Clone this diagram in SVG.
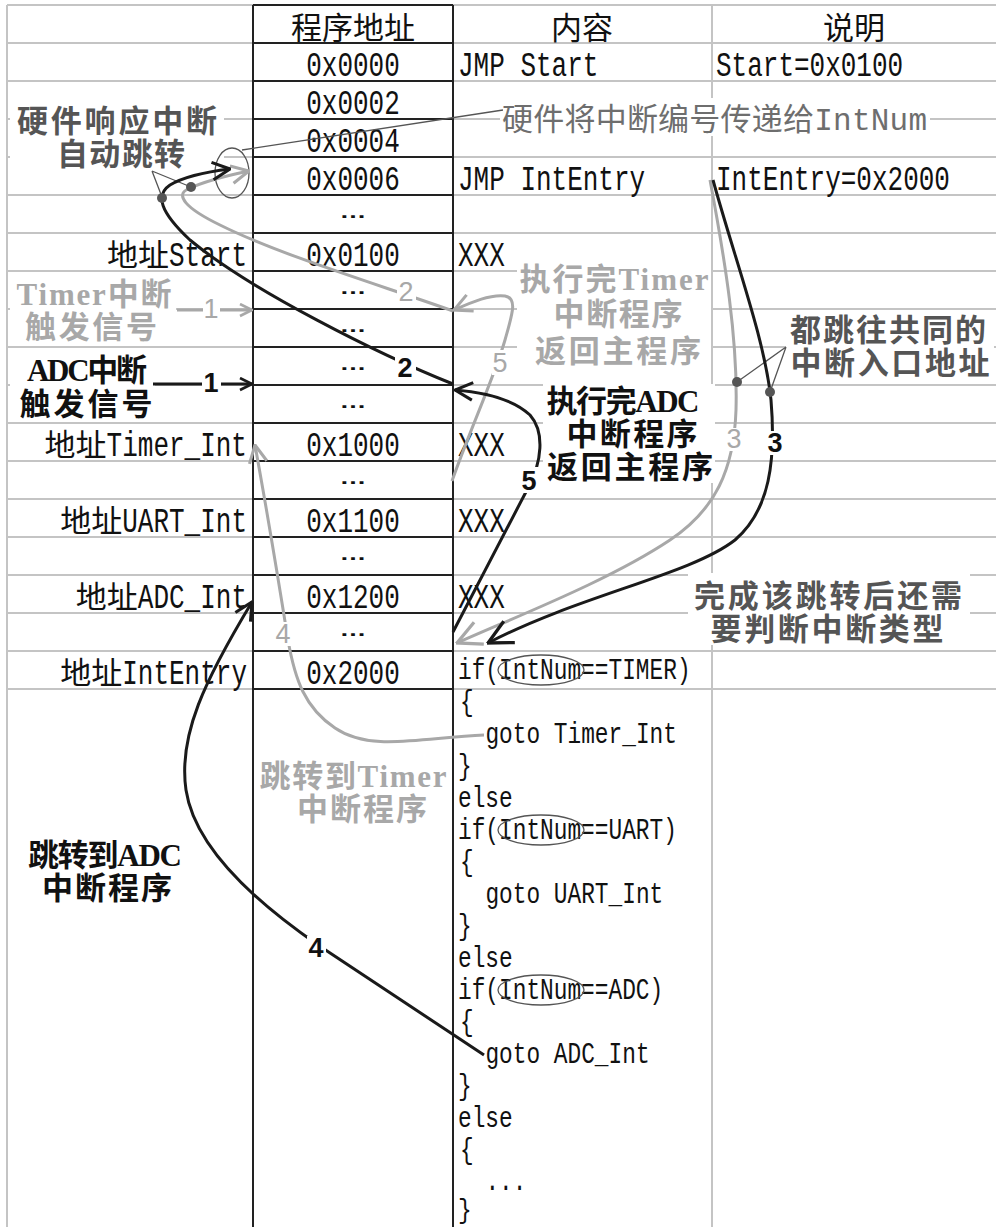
<svg xmlns="http://www.w3.org/2000/svg" width="996" height="1227" viewBox="0 0 996 1227">
<style>
.gl{fill:none;stroke:#c4c4c4;stroke-width:2}
.bl{fill:none;stroke:#222;stroke-width:2}
.m{font-family:"Liberation Mono",monospace;font-size:26px;fill:#111}
.c{font-family:"Liberation Mono",monospace;font-size:22.8px;fill:#111}
.h{font-family:"Noto Sans CJK SC",sans-serif;font-size:31px;fill:#111}
.el{font-family:"Liberation Sans",sans-serif;font-size:18px;font-weight:bold;fill:#111;text-anchor:middle}
.lb{font-family:"Liberation Serif","Noto Sans CJK SC",serif;font-size:31px;font-weight:bold;text-anchor:middle}
.rg{font-family:"Liberation Mono","Noto Sans CJK SC",monospace;font-size:31px;fill:#6e6e6e}
.dk{fill:#555}.lg{fill:#a8a8a8}.bk{fill:#111}
.cb{fill:none;stroke:#1a1a1a;stroke-width:3}
.cg{fill:none;stroke:#a8a8a8;stroke-width:3}
.th{fill:none;stroke:#555;stroke-width:1.3}
.n{font-family:"Liberation Sans",sans-serif;font-size:27px;text-anchor:middle}
.nb{font-weight:bold;fill:#111}.ng{fill:#a8a8a8}
.bg{fill:#fff}
.dot{fill:#555}
</style>
<defs>
<marker id="ab" markerUnits="userSpaceOnUse" markerWidth="22" markerHeight="22" viewBox="0 0 20 20" refX="19" refY="10" orient="auto"><path d="M3,2 L19,10 L3,18" fill="none" stroke="#1a1a1a" stroke-width="2.8"/></marker>
<marker id="ag" markerUnits="userSpaceOnUse" markerWidth="22" markerHeight="22" viewBox="0 0 20 20" refX="19" refY="10" orient="auto"><path d="M3,2 L19,10 L3,18" fill="none" stroke="#a8a8a8" stroke-width="2.8"/></marker>
<marker id="abL" markerUnits="userSpaceOnUse" markerWidth="30" markerHeight="30" viewBox="0 0 20 20" refX="19" refY="10" orient="auto"><path d="M3,2 L19,10 L3,18" fill="none" stroke="#1a1a1a" stroke-width="2.2"/></marker>
<marker id="agL" markerUnits="userSpaceOnUse" markerWidth="30" markerHeight="30" viewBox="0 0 20 20" refX="19" refY="10" orient="auto"><path d="M3,2 L19,10 L3,18" fill="none" stroke="#a8a8a8" stroke-width="2.2"/></marker>
<marker id="abS" markerUnits="userSpaceOnUse" markerWidth="15" markerHeight="15" viewBox="0 0 20 20" refX="19" refY="10" orient="auto"><path d="M3,2 L19,10 L3,18" fill="none" stroke="#1a1a1a" stroke-width="3.5"/></marker>
<marker id="agS" markerUnits="userSpaceOnUse" markerWidth="15" markerHeight="15" viewBox="0 0 20 20" refX="19" refY="10" orient="auto"><path d="M3,2 L19,10 L3,18" fill="none" stroke="#a8a8a8" stroke-width="3.5"/></marker>
</defs>
<rect width="996" height="1227" fill="#fff"/>

<g id="grid">
<path class="gl" d="M7,5H253M453,5H996M7,43H253M453,43H996M7,81H253M453,81H996M7,119H253M453,119H996M7,157H253M453,157H996M7,195H253M453,195H996M7,233H253M453,233H996M7,271H253M453,271H996M7,309H253M453,309H996M7,347H253M453,347H996M7,385H253M453,385H996M7,423H253M453,423H996M7,461H253M453,461H996M7,499H253M453,499H996M7,537H253M453,537H996M7,575H253M453,575H996M7,613H253M453,613H996M7,651H253M453,651H996M7,689H253M453,689H996M7,5V1227M712,5V1227"/>
<path class="bl" d="M253,5H453M253,43H453M253,81H453M253,119H453M253,157H453M253,195H453M253,233H453M253,271H453M253,309H453M253,347H453M253,385H453M253,423H453M253,461H453M253,499H453M253,537H453M253,575H453M253,613H453M253,651H453M253,689H453M253,5V1227M453,5V1227"/>
</g>

<g id="header">
<text class="h" x="353" y="39" text-anchor="middle">程序地址</text>
<text class="h" x="582" y="39" text-anchor="middle">内容</text>
<text class="h" x="854" y="39" text-anchor="middle">说明</text>
</g>

<g id="addresses">
<text class="m" text-anchor="middle" transform="translate(353,76) scale(1,1.35)">0x0000</text>
<text class="m" text-anchor="middle" transform="translate(353,114) scale(1,1.35)">0x0002</text>
<text class="m" text-anchor="middle" transform="translate(353,152) scale(1,1.35)">0x0004</text>
<text class="m" text-anchor="middle" transform="translate(353,190) scale(1,1.35)">0x0006</text>
<text class="m" text-anchor="middle" transform="translate(353,266) scale(1,1.35)">0x0100</text>
<text class="m" text-anchor="middle" transform="translate(353,456) scale(1,1.35)">0x1000</text>
<text class="m" text-anchor="middle" transform="translate(353,532) scale(1,1.35)">0x1100</text>
<text class="m" text-anchor="middle" transform="translate(353,608) scale(1,1.35)">0x1200</text>
<text class="m" text-anchor="middle" transform="translate(353,684) scale(1,1.35)">0x2000</text>
<text class="el" transform="translate(353,218) scale(1.5,1)">…</text>
<text class="el" transform="translate(353,294) scale(1.5,1)">…</text>
<text class="el" transform="translate(353,332) scale(1.5,1)">…</text>
<text class="el" transform="translate(353,370) scale(1.5,1)">…</text>
<text class="el" transform="translate(353,408) scale(1.5,1)">…</text>
<text class="el" transform="translate(353,484) scale(1.5,1)">…</text>
<text class="el" transform="translate(353,560) scale(1.5,1)">…</text>
<text class="el" transform="translate(353,636) scale(1.5,1)">…</text>
</g>

<g id="contents">
<text class="m" transform="translate(458,76) scale(1,1.35)">JMP Start</text>
<text class="m" transform="translate(458,190) scale(1,1.35)">JMP IntEntry</text>
<text class="m" transform="translate(458,266) scale(1,1.35)">XXX</text>
<text class="m" transform="translate(458,456) scale(1,1.35)">XXX</text>
<text class="m" transform="translate(458,532) scale(1,1.35)">XXX</text>
<text class="m" transform="translate(458,608) scale(1,1.35)">XXX</text>
<text class="m" transform="translate(716,76) scale(1,1.35)">Start=0x0100</text>
<text class="m" transform="translate(716,190) scale(1,1.35)">IntEntry=0x2000</text>
</g>

<g id="labels-left">
<text class="h" x="169" y="266" text-anchor="end">地址</text>
<text class="m" transform="translate(169,266) scale(1,1.35)">Start</text>
<text class="h" x="106.6" y="456" text-anchor="end">地址</text>
<text class="m" transform="translate(106.6,456) scale(1,1.35)">Timer_Int</text>
<text class="h" x="122.2" y="532" text-anchor="end">地址</text>
<text class="m" transform="translate(122.2,532) scale(1,1.35)">UART_Int</text>
<text class="h" x="137.8" y="608" text-anchor="end">地址</text>
<text class="m" transform="translate(137.8,608) scale(1,1.35)">ADC_Int</text>
<text class="h" x="122.2" y="684" text-anchor="end">地址</text>
<text class="m" transform="translate(122.2,684) scale(1,1.35)">IntEntry</text>
</g>

<g id="code">
<text class="c" transform="translate(458,679) scale(1,1.3)">if(IntNum==TIMER)</text>
<text class="c" transform="translate(460,711) scale(1,1.3)">{</text>
<text class="c" transform="translate(485.4,743) scale(1,1.3)">goto Timer_Int</text>
<text class="c" transform="translate(458,775) scale(1,1.3)">}</text>
<text class="c" transform="translate(458,807) scale(1,1.3)">else</text>
<text class="c" transform="translate(458,839) scale(1,1.3)">if(IntNum==UART)</text>
<text class="c" transform="translate(460,871) scale(1,1.3)">{</text>
<text class="c" transform="translate(485.4,903) scale(1,1.3)">goto UART_Int</text>
<text class="c" transform="translate(458,935) scale(1,1.3)">}</text>
<text class="c" transform="translate(458,967) scale(1,1.3)">else</text>
<text class="c" transform="translate(458,999) scale(1,1.3)">if(IntNum==ADC)</text>
<text class="c" transform="translate(460,1031) scale(1,1.3)">{</text>
<text class="c" transform="translate(485.4,1063) scale(1,1.3)">goto ADC_Int</text>
<text class="c" transform="translate(458,1095) scale(1,1.3)">}</text>
<text class="c" transform="translate(458,1127) scale(1,1.3)">else</text>
<text class="c" transform="translate(460,1159) scale(1,1.3)">{</text>
<text class="c" transform="translate(485.4,1190) scale(1,1.3)">...</text>
<text class="c" transform="translate(458,1218) scale(1,1.25)">}</text>
<ellipse class="th" cx="541" cy="670" rx="43" ry="15"/>
<ellipse class="th" cx="541" cy="830" rx="43" ry="15"/>
<ellipse class="th" cx="541" cy="990" rx="43" ry="15"/>
</g>

<g id="note-hw">
<rect class="bg" x="10" y="100" width="214" height="70"/>
<text class="lb dk"><tspan x="117" y="132" textLength="200" lengthAdjust="spacing">硬件响应中断</tspan><tspan x="121" y="165" textLength="128" lengthAdjust="spacing">自动跳转</tspan></text>
</g>
<g id="note-timer-trigger">
<rect class="bg" x="10" y="276" width="166" height="67"/>
<text class="lb lg"><tspan x="94" y="305" textLength="155" lengthAdjust="spacing">Timer中断</tspan><tspan x="91" y="338" textLength="132" lengthAdjust="spacing">触发信号</tspan></text>
</g>
<g id="note-adc-trigger">
<rect class="bg" x="10" y="352" width="145" height="69"/>
<text class="lb bk"><tspan x="87" y="381" textLength="120" lengthAdjust="spacing">ADC中断</tspan><tspan x="86" y="415" textLength="133" lengthAdjust="spacing">触发信号</tspan></text>
</g>
<g id="note-timer-return">
<rect class="bg" x="517" y="258" width="194" height="110"/>
<text class="lb lg"><tspan x="614" y="290" textLength="189" lengthAdjust="spacing">执行完Timer</tspan><tspan x="618" y="325" textLength="129" lengthAdjust="spacing">中断程序</tspan><tspan x="618" y="362" textLength="166" lengthAdjust="spacing">返回主程序</tspan></text>
</g>
<g id="note-adc-return">
<rect class="bg" x="543" y="384" width="172" height="99"/>
<text class="lb bk"><tspan x="623" y="412" textLength="153" lengthAdjust="spacing">执行完ADC</tspan><tspan x="632" y="445" textLength="131" lengthAdjust="spacing">中断程序</tspan><tspan x="630" y="478" textLength="166" lengthAdjust="spacing">返回主程序</tspan></text>
</g>
<g id="note-common-entry">
<rect class="bg" x="786" y="311" width="208" height="68"/>
<text class="lb dk"><tspan x="888" y="341" textLength="196" lengthAdjust="spacing">都跳往共同的</tspan><tspan x="890" y="374" textLength="199" lengthAdjust="spacing">中断入口地址</tspan></text>
</g>
<g id="note-type">
<rect class="bg" x="688" y="573" width="282" height="72"/>
<text class="lb dk"><tspan x="828" y="607" textLength="268" lengthAdjust="spacing">完成该跳转后还需</tspan><tspan x="827" y="640" textLength="233" lengthAdjust="spacing">要判断中断类型</tspan></text>
</g>
<g id="note-goto-timer">
<text class="lb lg"><tspan x="353" y="787" textLength="187" lengthAdjust="spacing">跳转到Timer</tspan><tspan x="362" y="820" textLength="130" lengthAdjust="spacing">中断程序</tspan></text>
</g>
<g id="note-goto-adc">
<text class="lb bk"><tspan x="105" y="866" textLength="154" lengthAdjust="spacing">跳转到ADC</tspan><tspan x="107" y="899" textLength="130" lengthAdjust="spacing">中断程序</tspan></text>
</g>
<g id="note-intnum">
<rect class="bg" x="500" y="98" width="430" height="38"/>
<text class="rg" x="502" y="130" textLength="425" lengthAdjust="spacing">硬件将中断编号传递给IntNum</text>
</g>

<g id="connectors">
<path class="th" d="M242,150 L503,110"/>
<ellipse class="th" cx="232" cy="173" rx="17" ry="25"/>
<path class="th" d="M152,171 L162,197 M152,171 L191,187"/>
<path class="th" d="M786,347 L737,382 M786,347 L770,392"/>
<path class="cg" d="M177,310 L252,310" marker-end="url(#agS)"/>
<path class="cb" d="M153,384 L252,384" marker-end="url(#abS)"/>
<path class="cg" d="M453,311 C 380,285 280,255 220,225 C 185,208 175,195 188,189 C 205,181 225,176 249,171" marker-end="url(#ag)"/>
<path class="cb" d="M453,384 C 380,355 250,290 190,240 C 160,212 155,195 170,185 C 185,176 205,172 230,169" marker-end="url(#ab)"/>
<path class="cg" d="M710,180 C 725,260 738,340 736,410 C 734,470 715,510 670,540 C 610,580 520,615 457,643" marker-end="url(#agL)"/>
<path class="cb" d="M713,180 C 735,260 765,340 771,400 C 776,460 770,510 735,540 C 690,575 580,595 488,643" marker-end="url(#abL)"/>
<path class="cg" d="M484,735 C 420,738 370,752 335,728 C 305,708 295,680 288,640 C 280,590 265,500 255,445" marker-end="url(#ag)"/>
<path class="cb" d="M484,1055 L318,945 C 260,905 195,850 186,790 C 178,735 205,680 252,602" marker-end="url(#ab)"/>
<path class="cg" d="M452,481 C 470,430 495,375 505,340 C 512,315 518,298 505,296 C 490,294 470,303 454,310" marker-end="url(#ag)"/>
<path class="cb" d="M453,632 L528,488 C 542,462 545,432 530,415 C 512,398 480,392 455,390" marker-end="url(#ab)"/>
<circle class="dot" cx="162" cy="198" r="5"/>
<circle class="dot" cx="191" cy="187" r="5"/>
<circle class="dot" cx="737" cy="382" r="5"/>
<circle class="dot" cx="770" cy="392" r="5"/>
</g>

<g id="step-labels">
<rect class="bg" x="395" y="354" width="21" height="26"/><text class="n nb" x="405" y="377">2</text>
<rect class="bg" x="397" y="281" width="19" height="23"/><text class="n ng" x="406" y="301">2</text>
<rect class="bg" x="203" y="297" width="17" height="24"/><text class="n ng" x="211" y="318">1</text>
<rect class="bg" x="202" y="370" width="19" height="25"/><text class="n nb" x="211" y="392">1</text>
<rect class="bg" x="492" y="350" width="17" height="25"/><text class="n ng" x="500" y="372">5</text>
<rect class="bg" x="520" y="467" width="19" height="26"/><text class="n nb" x="529" y="490">5</text>
<rect class="bg" x="726" y="428" width="17" height="23"/><text class="n ng" x="734" y="448">3</text>
<rect class="bg" x="766" y="431" width="18" height="24"/><text class="n nb" x="775" y="452">3</text>
<rect class="bg" x="275" y="622" width="17" height="24"/><text class="n ng" x="283" y="643">4</text>
<rect class="bg" x="307" y="936" width="19" height="24"/><text class="n nb" x="316" y="957">4</text>
</g>
</svg>
